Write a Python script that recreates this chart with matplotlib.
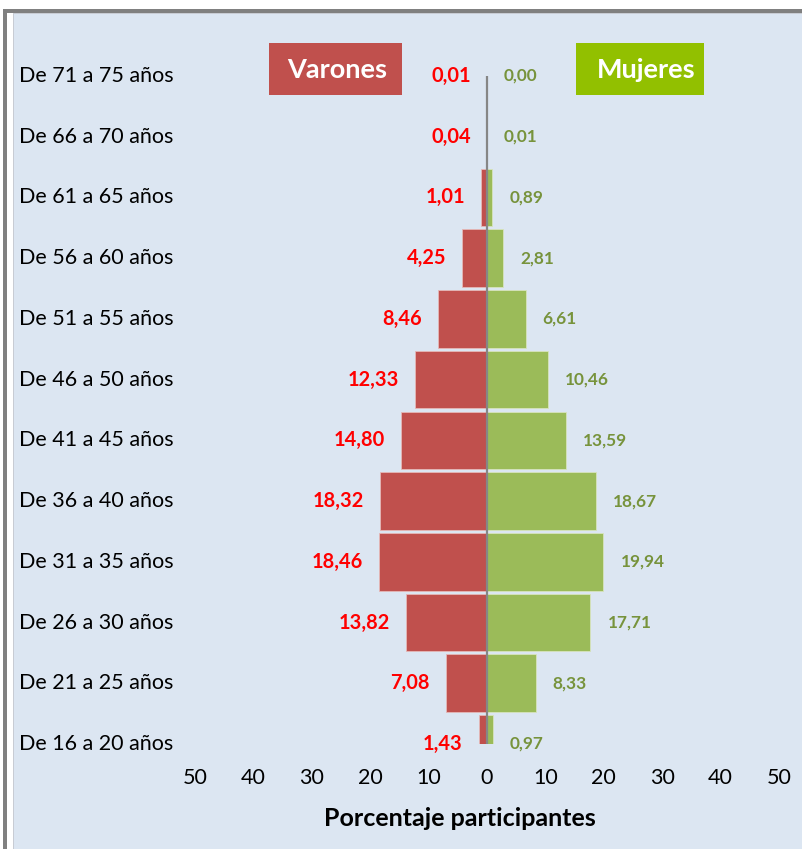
import matplotlib
matplotlib.use('Agg')
import matplotlib.pyplot as plt
from matplotlib.patches import Rectangle

# age groups from youngest (bottom) to oldest (top)
grupos = ['De 16 a 20 años', 'De 21 a 25 años', 'De 26 a 30 años', 'De 31 a 35 años',
          'De 36 a 40 años', 'De 41 a 45 años', 'De 46 a 50 años', 'De 51 a 55 años',
          'De 56 a 60 años', 'De 61 a 65 años', 'De 66 a 70 años', 'De 71 a 75 años']
varones = [1.43, 7.08, 13.82, 18.46, 18.32, 14.80, 12.33, 8.46, 4.25, 1.01, 0.04, 0.01]
mujeres = [0.97, 8.33, 17.71, 19.94, 18.67, 13.59, 10.46, 6.61, 2.81, 0.89, 0.01, 0.00]
ticks = [-50, -40, -30, -20, -10, 0, 10, 20, 30, 40, 50]

W, H = 803, 849
plt.rcParams['font.family'] = ['Lato', 'DejaVu Sans']

c_var = '#c0504d'
c_muj = '#9bbb59'
c_fondo = '#dce6f2'

fig = plt.figure(figsize=(W / 100, H / 100), dpi=100)
fig.patch.set_facecolor('white')

def px(x, y):
    # pixel coords (top-left origin) -> figure fraction
    return x / W, 1 - y / H

def rect(x0, y0, x1, y1, color, z=0):
    fx, fy = px(x0, y1)
    fig.add_artist(Rectangle((fx, fy), (x1 - x0) / W, (y1 - y0) / H,
                             transform=fig.transFigure, facecolor=color,
                             edgecolor='none', zorder=z))

# frame
rect(3, 9, W, H, '#808080', -5)
rect(7, 13, W, H, 'white', -4)
rect(13, 13, W, H, '#c8ccd4', -3)
rect(14, 14, W, H, c_fondo, -2)

ax = fig.add_axes([195 / W, 1 - 744 / H, 584 / W, 668 / H])
ax.patch.set_visible(False)
for s in ax.spines.values():
    s.set_visible(False)

y = list(range(len(grupos)))
ax.barh(y, [-v for v in varones], height=0.95, color=c_var, edgecolor='#e6b9b8', linewidth=0.6)
ax.barh(y, mujeres, height=0.95, color=c_muj, edgecolor='#d7e4bd', linewidth=0.6)
ax.axvline(0, color='#868686', lw=1.6, zorder=3)

ax.set_xlim(-50, 50)
ax.set_ylim(0, len(grupos) - 1)
ax.set_xticks(ticks)
ax.set_xticklabels([str(abs(t)) for t in ticks], fontsize=15.5)
ax.tick_params(axis='x', length=0, pad=17)
ax.set_yticks([])

for i, g in enumerate(grupos):
    ax.text((19 - 195) / 584, i, g, transform=ax.get_yaxis_transform(),
            ha='left', va='center', fontsize=15.5, clip_on=False)
    ax.annotate(f'{varones[i]:.2f}'.replace('.', ','), xy=(-varones[i], i),
                xytext=(-16, 0), textcoords='offset pixels', ha='right', va='center',
                color='#ff0000', fontweight='bold', fontsize=14.4, annotation_clip=False)
    ax.annotate(f'{mujeres[i]:.2f}'.replace('.', ','), xy=(mujeres[i], i),
                xytext=(17, 0), textcoords='offset pixels', ha='left', va='center',
                color='#77933c', fontweight='bold', fontsize=12.4, annotation_clip=False)

# legend boxes
rect(269, 43, 402, 95, c_var, 5)
rect(576, 43, 704, 95, '#92c000', 5)
fig.text(*px(337, 70), 'Varones', color='white', fontweight='bold', fontsize=19.5,
         ha='center', va='center', zorder=6)
fig.text(*px(646, 70), 'Mujeres', color='white', fontweight='bold', fontsize=19.5,
         ha='center', va='center', zorder=6)

fig.text(*px(460, 819), 'Porcentaje participantes', fontweight='bold', fontsize=18,
         ha='center', va='center')

plt.savefig('out.png', dpi=100, facecolor=fig.get_facecolor())
